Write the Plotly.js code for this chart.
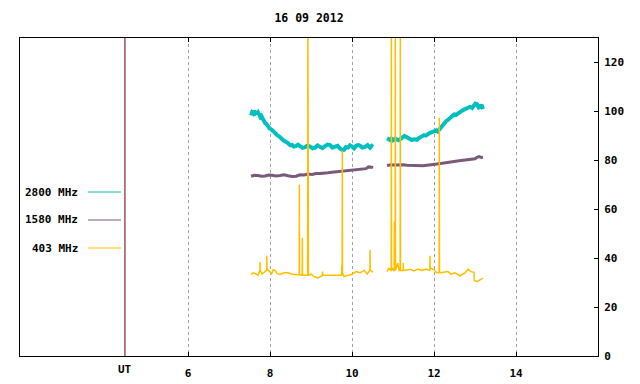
<!DOCTYPE html>
<html><head><meta charset="utf-8">
<script src="https://cdn.plot.ly/plotly-3.0.1.min.js"></script>
<style>html,body{margin:0;padding:0;background:#fff}#chart{width:640px;height:384px}</style>
</head><body><div id="chart"></div>
<script>
// ---- data (hours UT, sfu) ----
const hours2800 = [7.537,7.56,7.585,7.61,7.635,7.659,7.685,7.71,7.732,7.76,7.785,7.805,7.83,7.854,7.88,7.902,7.93,7.951,7.98,8.0,8.03,8.073,8.1,8.146,8.18,8.22,8.25,8.293,8.33,8.366,8.4,8.44,8.49,8.537,8.58,8.634,8.68,8.732,8.79,8.854,8.91,8.976,9.04,9.098,9.16,9.22,9.28,9.341,9.4,9.463,9.52,9.585,9.65,9.707,9.76,9.805,9.85,9.902,9.95,10.0,10.05,10.098,10.15,10.195,10.25,10.317,10.38,10.439,10.48,10.512,
  null,
  10.854,10.89,10.927,10.96,11.0,11.05,11.098,11.13,11.171,11.21,11.244,11.28,11.317,11.36,11.415,11.46,11.512,11.55,11.585,11.62,11.659,11.71,11.756,11.8,11.854,11.9,11.951,12.0,12.049,12.09,12.122,12.16,12.195,12.24,12.293,12.34,12.39,12.44,12.488,12.54,12.585,12.63,12.683,12.73,12.78,12.83,12.878,12.93,12.976,13.01,13.049,13.09,13.122,13.16,13.195];
const flux2800 = [98.4,99.6,99.2,100.2,99.4,100,98.9,99.5,98.8,97.8,98.2,97.5,96.2,96,95.2,95,94.6,94,93.2,92.8,92.6,92,91.4,91,90.2,89.8,89.2,88.6,88.1,87.8,87.2,87,86.2,86.3,85.6,85.8,86.4,85.7,85.1,85.4,86,85.6,84.9,85.2,86.1,85.5,85,85.8,86.4,86.2,85.2,85.6,85.9,84.8,84.2,84.3,85.4,85.2,86.1,85.6,84.9,85.9,86.3,86,85.2,85.5,86.2,85.2,85.9,85.5,
  null,
  89,88.5,88.3,88.8,88.2,88.9,88.4,88.2,88.6,89.3,89.6,90,89.6,89.2,89,88.3,88.6,88.5,88.4,89,89.5,89.8,90.3,90.1,90.8,91.2,91.5,91.9,92.3,91.8,92.5,93.1,94.3,95,96,96.5,97.4,98.1,98.8,98.6,99.3,99.9,100.3,100.7,101,101.6,101.8,101.4,102.2,103.2,103,101.6,101.8,102.6,101];

const hours1580 = [7.537,7.62,7.707,7.79,7.878,7.96,8.049,8.14,8.244,8.34,8.439,8.54,8.634,8.73,8.829,8.93,9.024,9.12,9.22,9.32,9.415,9.51,9.61,9.71,9.805,9.9,10.0,10.1,10.195,10.27,10.341,10.4,10.439,10.48,10.512,
  null,
  10.854,10.95,11.049,11.15,11.244,11.34,11.439,11.54,11.634,11.73,11.829,11.93,12.024,12.12,12.22,12.32,12.415,12.51,12.61,12.71,12.805,12.9,13.0,13.05,13.098,13.15,13.195];
const flux1580 = [73.5,73.9,73.8,73.5,73.6,74,73.9,73.6,73.8,74.1,73.7,73.4,73.5,74.1,74,74.4,74.2,74.6,74.6,74.9,74.9,75.1,75.3,75.5,75.6,75.9,76,76.1,76.2,76.4,76.6,77.3,77.4,77.2,77,
  null,
  77.9,78.2,78.1,78.3,78.2,78,77.9,78.1,78,77.8,78,78.1,78.4,78.6,78.9,79,79.3,79.6,79.8,80,80.1,80.4,80.6,81.2,81.5,81.2,81.3];

const hours403 = [7.537,7.585,7.659,7.707,7.752,7.756,7.760,7.805,7.854,7.902,7.915,7.919,7.923,7.951,8.0,8.037,8.073,8.122,8.171,8.244,8.341,8.439,8.537,8.634,8.707,8.711,8.715,8.719,8.78,8.784,8.788,8.792,8.854,8.915,8.918,8.922,8.926,8.930,8.934,8.938,9.0,9.073,9.171,9.22,9.276,9.28,9.284,9.317,9.463,9.61,9.707,9.745,9.749,9.753,9.759,9.763,9.767,9.805,9.902,10.0,10.098,10.195,10.293,10.366,10.435,10.439,10.443,10.512,
  null,
  10.854,10.902,10.939,10.955,10.959,10.963,10.976,11.012,11.028,11.032,11.036,11.052,11.056,11.060,11.115,11.15,11.174,11.178,11.182,11.247,11.251,11.255,11.27,11.415,11.512,11.61,11.707,11.805,11.898,11.902,11.906,12.0,12.061,12.125,12.129,12.133,12.146,12.244,12.341,12.415,12.512,12.634,12.756,12.829,12.902,12.976,12.98,13.049,13.122,13.195];
const flux403 = [33.2,34,33.6,33,35,38.4,35,33.5,34.3,35,35,41,36,35.2,34.5,33.4,35.2,35,33.8,33.3,34,34,33.4,33.2,33.2,33.2,70,33.2,33,33,48.2,33,33,33,33,140,33,33,82,33,33.5,32.5,31.8,32.3,33,34.5,33,33,33,33,33,33,37,33,33,84,34,32.5,33,33.4,34.5,34,35,33.5,35,43.4,35,34.3,
  null,
  34.5,36,35,35,140,35,36,35,35,55,35,35,140,35,38,35,35,140,35,35,38,35,35,35.5,34.8,35.5,35,35.5,35,41,36,35.3,34,34,97.4,34,34,34.3,34.5,33.5,34,32.8,34,35.5,34.5,34.2,31,30.4,31.2,31.8];

const seriesNames = ['2800 MHz','1580 MHz','403 MHz'];
const seriesColors = ['#00bfbf','#7a5a7c','#ffbf00'];
const xTickVals = [6, 8, 10, 12, 14];
const xTickText = ['6','8','10','12','14'];
const yTickVals = [0,20,40,60,80,100,120];
const utHour = 4.46;
const utLabel = 'UT';
const titleText = '16 09 2012';

const FONT = {family:'"DejaVu Sans Mono", "Liberation Mono", monospace', size:11, color:'#000'};

const traces = [
  {x:hours2800, y:flux2800, mode:'lines', line:{color:seriesColors[0], width:4}, connectgaps:false, showlegend:false},
  {x:hours1580, y:flux1580, mode:'lines', line:{color:seriesColors[1], width:3}, connectgaps:false, showlegend:false},
  {x:hours403, y:flux403, mode:'lines', line:{color:seriesColors[2], width:1.5}, connectgaps:false, showlegend:false}
];

// legend-like keys (text at left, line sample at right)
const keyY = [0.5157, 0.4277, 0.3396];
const annotations = seriesNames.map((n,i)=>({
  xref:'paper', yref:'paper', x:0.1038, y:keyY[i], xanchor:'right', yanchor:'middle',
  text:'<b>'+n+'</b>', showarrow:false, font:FONT
}));
annotations.push({xref:'x', yref:'paper', x:utHour, y:-0.041, xanchor:'center', yanchor:'middle',
  text:'<b>'+utLabel+'</b>', showarrow:false, font:FONT});
const shapes = seriesNames.map((n,i)=>({
  type:'line', xref:'paper', yref:'paper', x0:0.1176, x1:0.1747, y0:keyY[i], y1:keyY[i],
  line:{color:seriesColors[i], width:1}
}));
shapes.push({type:'line', xref:'x', yref:'paper', x0:utHour, x1:utHour, y0:0, y1:1, line:{color:'#600000', width:1}, layer:'above'});

const layout = {
  width:640, height:384,
  margin:{l:20, r:42, t:38, b:28, pad:0},
  paper_bgcolor:'#fff', plot_bgcolor:'#fff',
  font:FONT,
  showlegend:false,
  title:{text:'<b>'+titleText+'</b>', font:Object.assign({}, FONT, {size:11.5}), xref:'paper', x:0.5, xanchor:'center', yref:'container', y:0.953, yanchor:'middle'},
  xaxis:{range:[1.9,16], tickvals:xTickVals, ticktext:xTickText.map(t=>'<b>'+t+'</b>'),
    showgrid:true, gridcolor:'#a0a0a0', griddash:'dot', gridwidth:1,
    showline:true, linecolor:'#000', linewidth:1, mirror:'allticks',
    ticks:'inside', ticklen:4, tickcolor:'#000', zeroline:false, ticklabelstandoff:7},
  yaxis:{range:[0,130], side:'right', tickvals:yTickVals, ticktext:yTickVals.map(v=>'<b>'+v+'</b>'),
    showgrid:false, showline:true, linecolor:'#000', linewidth:1, mirror:true,
    ticks:'inside', ticklen:4, tickcolor:'#000', zeroline:false, ticklabelstandoff:3},
  annotations:annotations,
  shapes:shapes
};

Plotly.newPlot('chart', traces, layout, {staticPlot:true, displayModeBar:false});
</script>
</body></html>
